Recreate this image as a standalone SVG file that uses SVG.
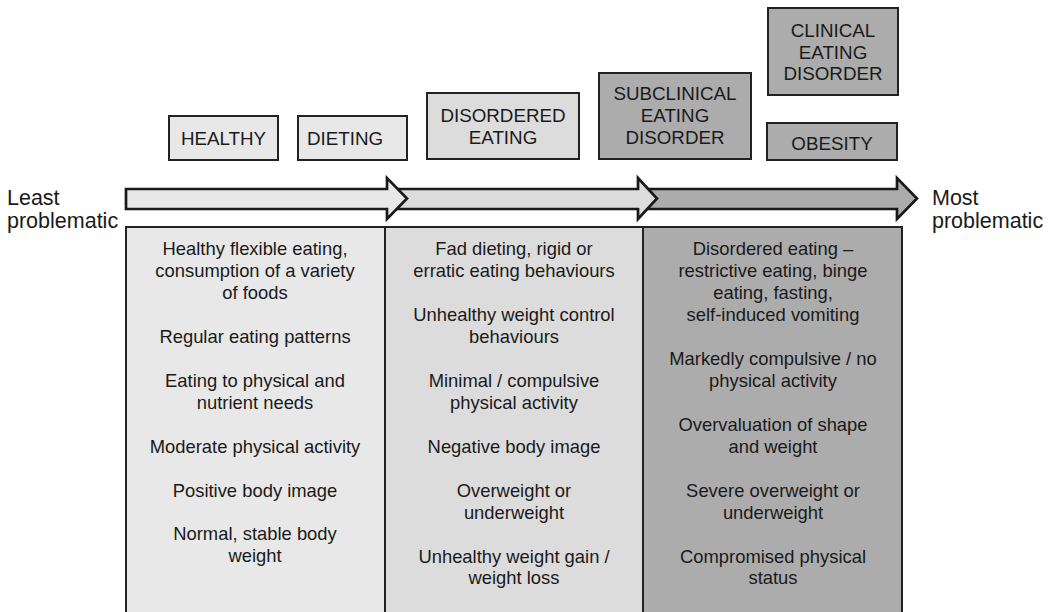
<svg xmlns="http://www.w3.org/2000/svg" width="1053" height="612" viewBox="0 0 1053 612">
<style>
text{font-family:"Liberation Sans",Arial,sans-serif;fill:#1a1a1a;text-anchor:middle}
.lbl{font-size:18.8px}
.body{font-size:18.4px}
.side{font-size:21.5px;text-anchor:start}
.box{stroke:#222;stroke-width:2}
.c1{fill:#e8e8e8}
.c2{fill:#dcdcdc}
.c3{fill:#acacac}
.arr{stroke:#1a1a1a;stroke-width:2.7;stroke-linejoin:miter}
</style>
<rect width="1053" height="612" fill="#fff"/>
<g id="table">
<rect class="box c1" x="126" y="227" width="259" height="400"/>
<rect class="box c2" x="385" y="227" width="258" height="400"/>
<rect class="box c3" x="643" y="227" width="259" height="400"/>
</g>
<g id="connectors">
<polygon class="arr c3" points="640,189 897,189 897,178 917,198.5 897,219 897,209 640,209"/>
<polygon class="arr c2" points="392,189 638,189 638,178 657,198.5 638,219 638,209 392,209"/>
<polygon class="arr c1" points="126,189 387,189 387,178 407,198.5 387,219 387,209 126,209"/>
</g>
<g id="least"><text class="side" x="7" y="205">Least</text><text class="side" x="7" y="228">problematic</text></g>
<g id="most"><text class="side" x="932" y="205">Most</text><text class="side" x="932" y="228">problematic</text></g>
<g id="healthy"><rect class="box c1" x="169" y="116" width="109" height="44"/><text class="lbl" x="223.5" y="145">HEALTHY</text></g>
<g id="dieting"><rect class="box c1" x="298" y="116" width="109" height="44"/><text class="lbl" x="345" y="145">DIETING</text></g>
<g id="disordered"><rect class="box c2" x="427" y="93" width="152" height="66"/><text class="lbl" x="503" y="122">DISORDERED</text><text class="lbl" x="503" y="144">EATING</text></g>
<g id="subclinical"><rect class="box c3" x="599" y="73" width="152" height="86"/><text class="lbl" x="675" y="100">SUBCLINICAL</text><text class="lbl" x="675" y="122">EATING</text><text class="lbl" x="675" y="144">DISORDER</text></g>
<g id="clinical"><rect class="box c3" x="768" y="8" width="130" height="87"/><text class="lbl" x="833" y="36.5">CLINICAL</text><text class="lbl" x="833" y="58.5">EATING</text><text class="lbl" x="833" y="80">DISORDER</text></g>
<g id="obesity"><rect class="box c3" x="767" y="123" width="130" height="37"/><text class="lbl" x="832" y="150">OBESITY</text></g>
<g id="col1">
<text class="body"><tspan x="255" y="254.5">Healthy flexible eating,</tspan><tspan x="255" y="276.5">consumption of a variety</tspan><tspan x="255" y="298.5">of foods</tspan></text>
<text class="body" x="255" y="343">Regular eating patterns</text>
<text class="body"><tspan x="255" y="386.5">Eating to physical and</tspan><tspan x="255" y="408.5">nutrient needs</tspan></text>
<text class="body" x="255" y="452.5">Moderate physical activity</text>
<text class="body" x="255" y="496.5">Positive body image</text>
<text class="body"><tspan x="255" y="540">Normal, stable body</tspan><tspan x="255" y="562">weight</tspan></text>
</g>
<g id="col2">
<text class="body"><tspan x="514" y="254.5">Fad dieting, rigid or</tspan><tspan x="514" y="276.5">erratic eating behaviours</tspan></text>
<text class="body"><tspan x="514" y="320.5">Unhealthy weight control</tspan><tspan x="514" y="343">behaviours</tspan></text>
<text class="body"><tspan x="514" y="386.5">Minimal / compulsive</tspan><tspan x="514" y="408.5">physical activity</tspan></text>
<text class="body" x="514" y="452.5">Negative body image</text>
<text class="body"><tspan x="514" y="496.5">Overweight or</tspan><tspan x="514" y="518.5">underweight</tspan></text>
<text class="body"><tspan x="514" y="562.5">Unhealthy weight gain /</tspan><tspan x="514" y="584">weight loss</tspan></text>
</g>
<g id="col3">
<text class="body"><tspan x="773" y="254.5">Disordered eating –</tspan><tspan x="773" y="276.5">restrictive eating, binge</tspan><tspan x="773" y="298.5">eating, fasting,</tspan><tspan x="773" y="320.5">self-induced vomiting</tspan></text>
<text class="body"><tspan x="773" y="364.5">Markedly compulsive / no</tspan><tspan x="773" y="386.5">physical activity</tspan></text>
<text class="body"><tspan x="773" y="430.5">Overvaluation of shape</tspan><tspan x="773" y="452.5">and weight</tspan></text>
<text class="body"><tspan x="773" y="496.5">Severe overweight or</tspan><tspan x="773" y="518.5">underweight</tspan></text>
<text class="body"><tspan x="773" y="562.5">Compromised physical</tspan><tspan x="773" y="584">status</tspan></text>
</g>
</svg>
